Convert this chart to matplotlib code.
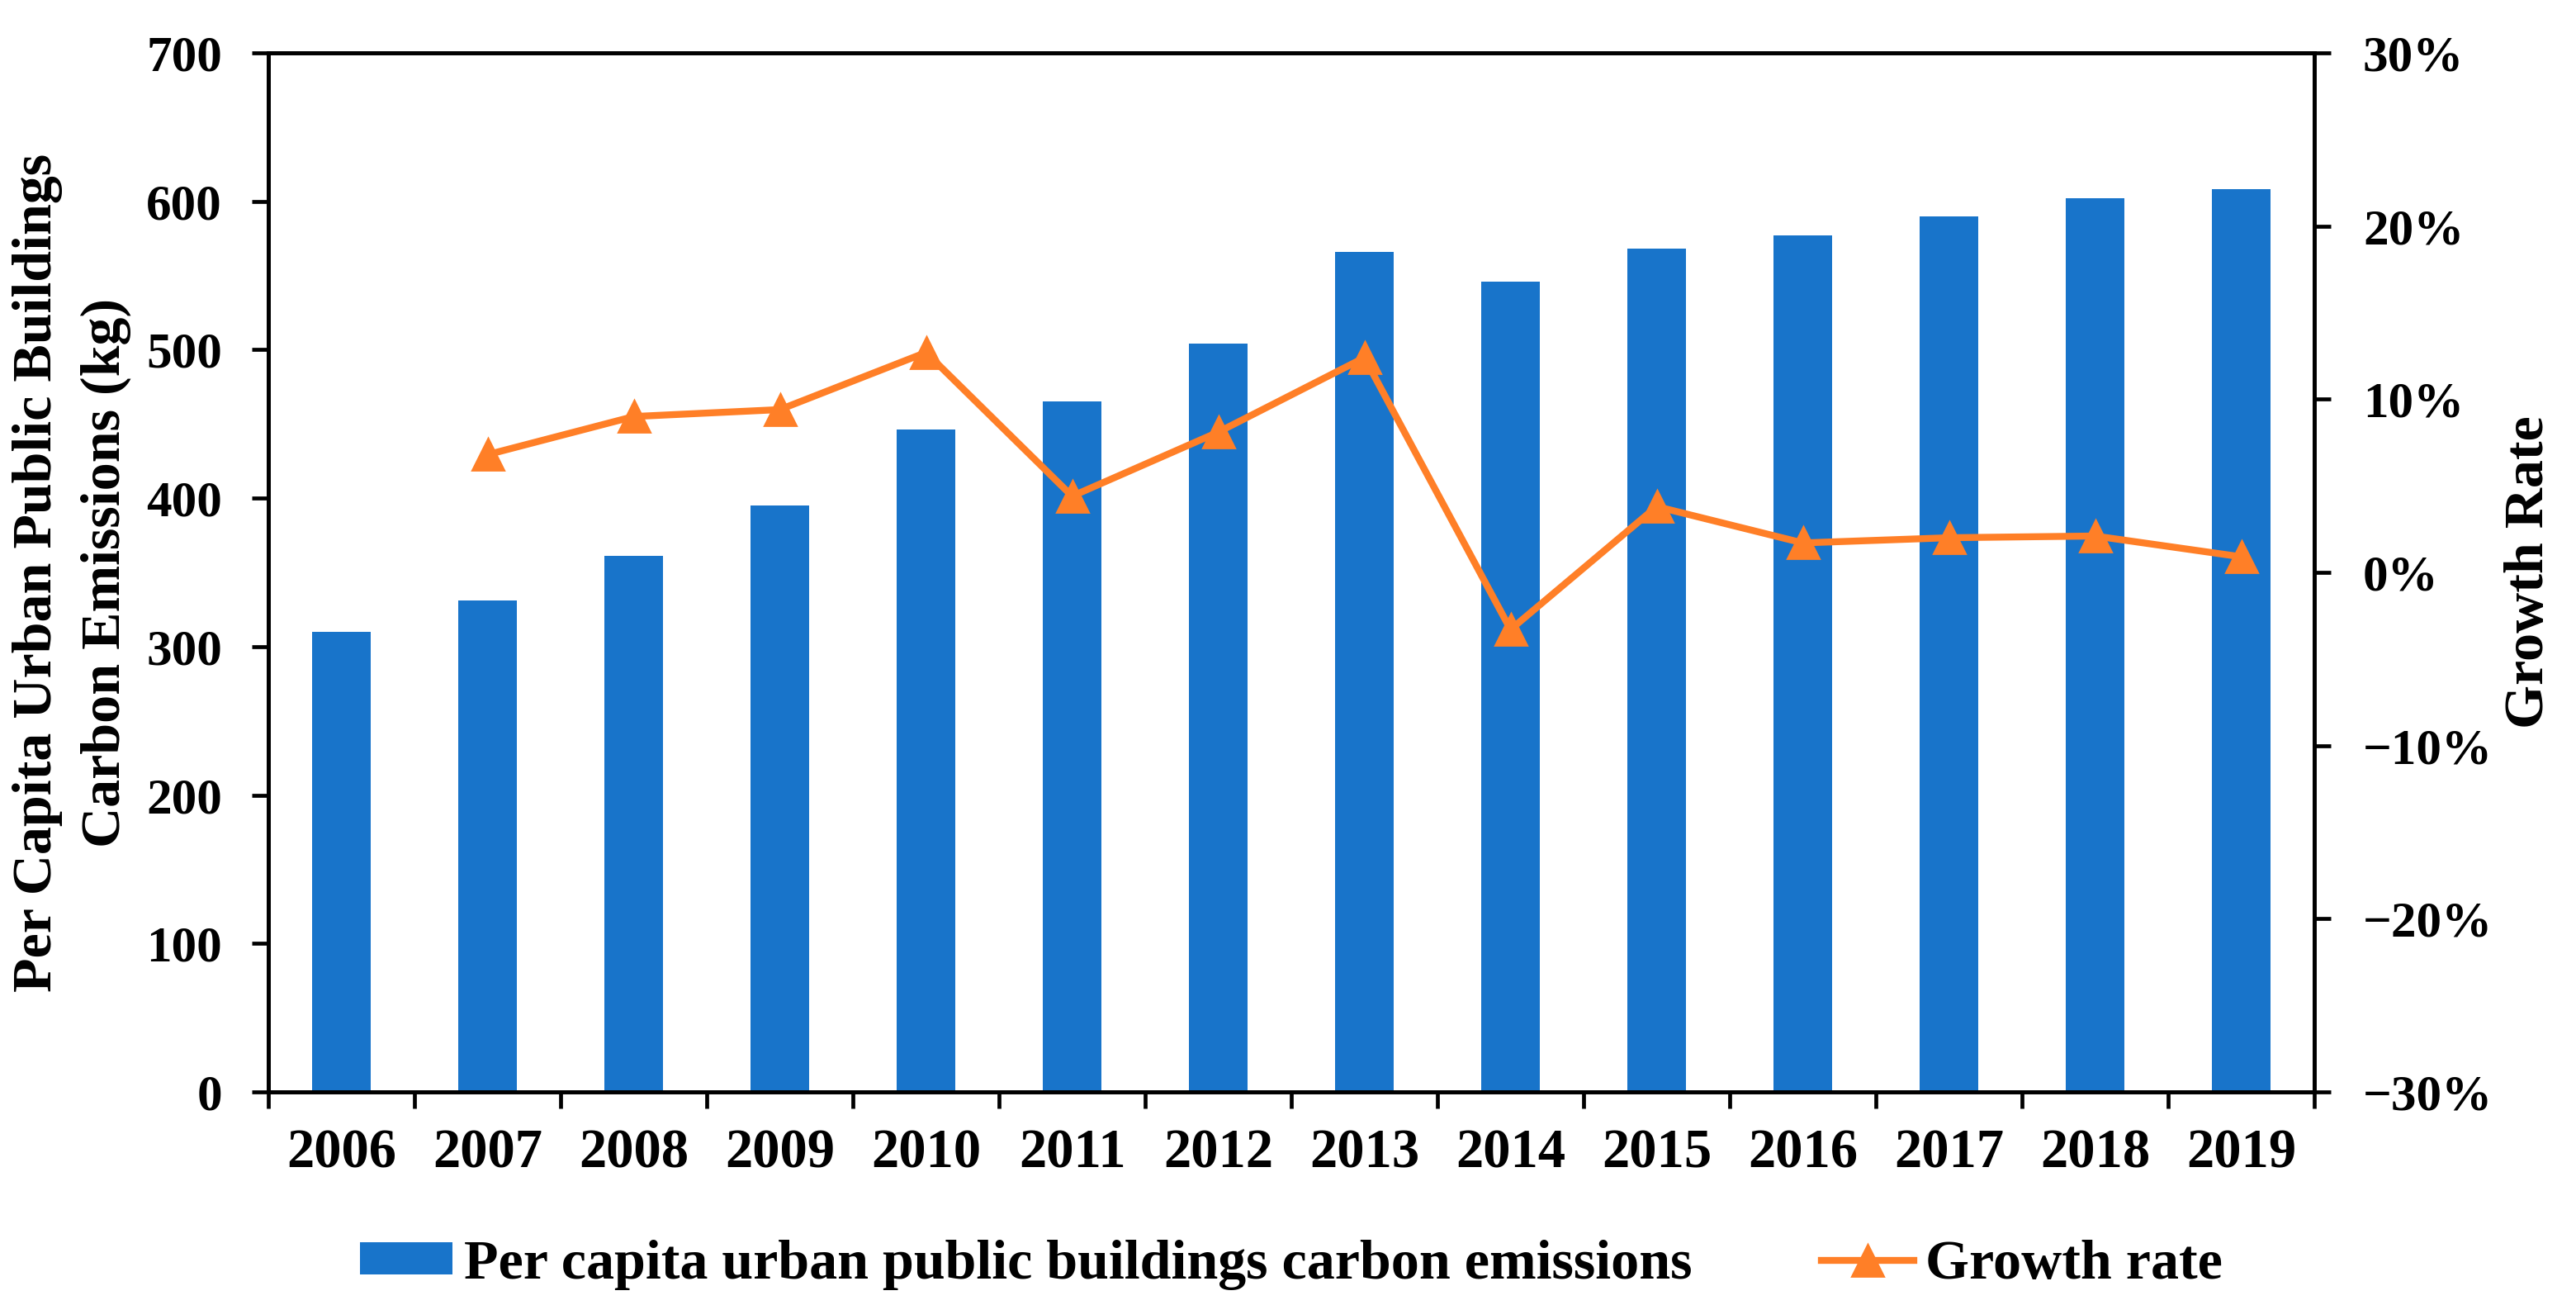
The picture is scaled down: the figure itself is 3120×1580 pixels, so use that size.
import matplotlib
matplotlib.use("Agg")
import matplotlib.pyplot as plt
from matplotlib.ticker import FuncFormatter, FixedLocator
import numpy as np

plt.rcParams['font.family'] = ['Liberation Serif', 'DejaVu Serif']
plt.rcParams['font.weight'] = 'bold'

years = ['2006', '2007', '2008', '2009', '2010', '2011', '2012',
         '2013', '2014', '2015', '2016', '2017', '2018', '2019']
emissions = [310, 331, 361, 395, 446, 465, 504, 566, 546, 568, 577, 590, 602, 608]
growth = [np.nan, 6.8, 9.0, 9.4, 12.7, 4.4, 8.1, 12.4, -3.3, 3.8, 1.7, 2.0, 2.1, 0.9]

BLUE = '#1874CA'
ORANGE = '#FF7F27'
TICK_FS = 22
LABEL_FS = 24.5

fig, ax = plt.subplots(figsize=(15.6, 7.9), dpi=200)
fig.subplots_adjust(left=0.1042, right=0.8984, top=0.9595, bottom=0.1633)

x = np.arange(len(years))
bars = ax.bar(x, emissions, width=0.4, color=BLUE,
              label='Per capita urban public buildings carbon emissions')
ax.set_xlim(-0.5, len(years) - 0.5)
ax.set_ylim(0, 700)
ax.set_yticks(range(0, 701, 100))

ax.set_xticks(x)
ax.set_xticklabels(years, fontsize=24, fontweight='bold')
ax.xaxis.set_minor_locator(FixedLocator(np.arange(-0.5, len(years), 1)))
ax.tick_params(axis='x', which='major', length=0, pad=16)
ax.tick_params(axis='x', which='minor', length=7.2, width=1.7, direction='out')
ax.tick_params(axis='y', length=7.2, width=1.7, direction='out', labelsize=TICK_FS, pad=13)
for lab in ax.get_yticklabels():
    lab.set_fontweight('bold')
ax.set_ylabel('Per Capita Urban Public Buildings\nCarbon Emissions (kg)',
              fontsize=LABEL_FS, fontweight='bold', linespacing=1.45)
ax.yaxis.set_label_coords(-0.067, 0.5)

ax2 = ax.twinx()
line, = ax2.plot(x, growth, color=ORANGE, lw=3.0, marker='^', markersize=14,
                 label='Growth rate')
ax2.set_ylim(-30, 30)
ax2.set_yticks(range(-30, 31, 10))
ax2.yaxis.set_major_formatter(FuncFormatter(lambda v, p: f'{v:.0f}%'.replace('-', '\u2212')))
ax2.tick_params(axis='y', length=7.2, width=1.7, direction='out', labelsize=TICK_FS, pad=14)
for lab in ax2.get_yticklabels():
    lab.set_fontweight('bold')
ax2.set_ylabel('Growth Rate', fontsize=LABEL_FS, fontweight='bold')
ax2.yaxis.set_label_coords(1.093, 0.5)

for a in (ax, ax2):
    for s in a.spines.values():
        s.set_linewidth(1.7)

fig.legend([bars, line], [bars.get_label(), line.get_label()],
           loc='center', bbox_to_anchor=(0.5013, 0.031), ncol=2,
           frameon=False, prop={'size': LABEL_FS, 'weight': 'bold'},
           handlelength=1.65, handleheight=0.51, handletextpad=0.2,
           columnspacing=2.3, borderpad=0)

fig.savefig('out.png', dpi=200)
